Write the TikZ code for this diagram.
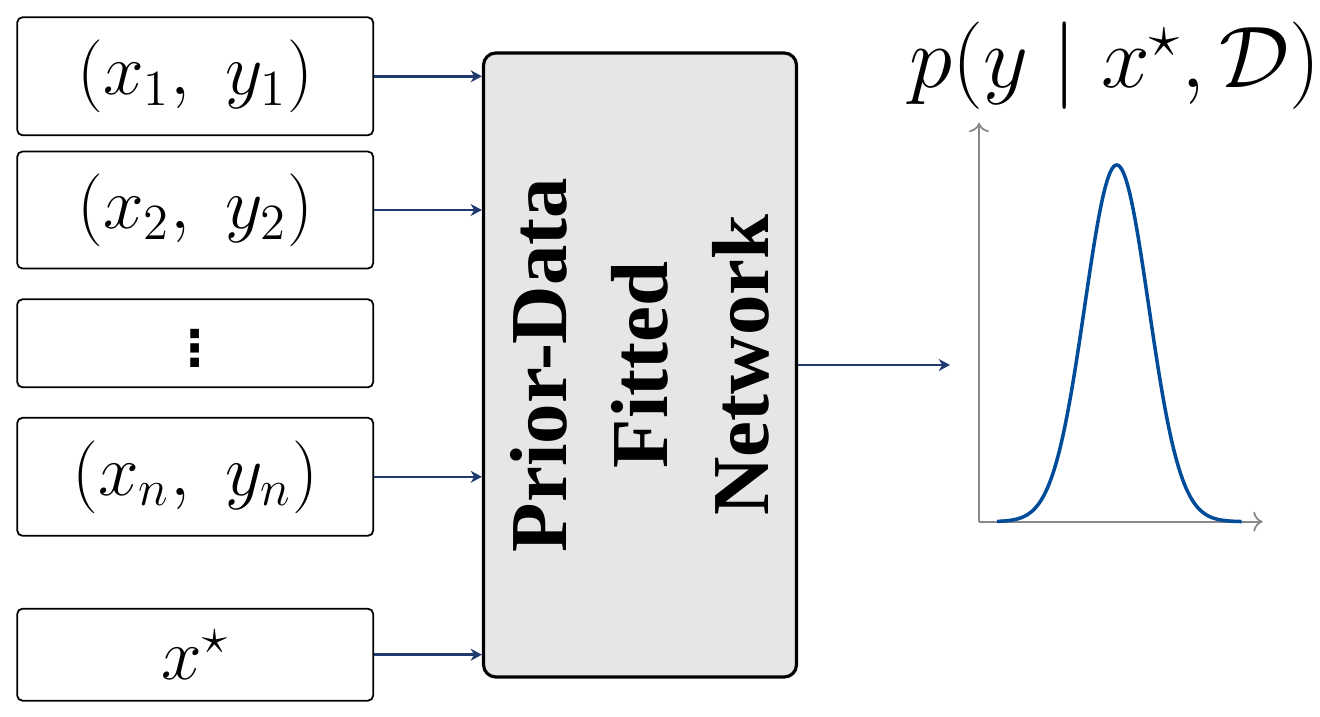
\documentclass[tikz,border=0pt]{standalone}
\usepackage{fontspec}
\usetikzlibrary{arrows.meta,positioning}

\newfontfamily\pfnfont{Liberation Serif}
\newfontfamily\dotsfont{DejaVu Sans}

\definecolor{arrowblue}{RGB}{31,58,110}
\definecolor{curveblue}{RGB}{0,76,153}
\definecolor{axisgray}{RGB}{136,136,136}
\definecolor{pfngray}{RGB}{230,230,230}

\tikzset{
  inbox/.style={draw, line width=0.5pt, rounded corners=1.5pt, minimum width=3.56cm,
    inner sep=0pt, font=\fontsize{22.5}{27}\selectfont},
  pfnbox/.style={draw, line width=0.9pt, fill=pfngray, rounded corners=3.5pt,
    minimum width=3.13cm, minimum height=6.24cm},
  feed/.style={-{Stealth[length=3.2pt,width=3.4pt,inset=1pt]}, line width=0.7pt, draw=arrowblue},
}

\begin{document}
\begin{tikzpicture}[axis/.style={->, draw=axisgray, line width=0.5pt},
    density/.style={draw=curveblue, line width=1pt}]
    \useasboundingbox (0,0) rectangle (13.2,7.16);

    % Входные пары и запрос
    \node[inbox, minimum height=1.18cm] (pair1) at (1.952,6.397) {$(x_1,\ y_1)$};
    \node[inbox, minimum height=1.17cm] (pair2) at (1.952,5.060) {$(x_2,\ y_2)$};
    \node[inbox, minimum height=0.88cm] (gap) at (1.952,3.727) {};
    \node[font=\dotsfont\bfseries\fontsize{14}{16}\selectfont] (gapdots)
      at ([yshift=-0.05cm]gap.center) {⋮};
    \node[inbox, minimum height=1.18cm] (pairn) at (1.952,2.392) {$(x_n,\ y_n)$};
    \node[inbox, minimum height=0.92cm] (query) at (1.952,0.613) {$x^\star$};

    % Сеть
    \node[pfnbox] (pfn) at (6.40,3.51) {};
    \node[rotate=90, align=center, inner sep=0pt,
      font=\pfnfont\bfseries\fontsize{23}{28.7}\selectfont] (pfntext) at (pfn.center)
      {Prior-Data\\Fitted\\Network};

    % Стрелки в сеть
    \foreach \src in {pair1,pair2,pairn,query}
      \draw[feed] (\src.east) -- (\src.east -| pfn.west);

    % Выход: плотность
    \coordinate (distin) at (9.50,3.51);
    \draw[feed] (pfn.east |- distin) -- (distin);

    \coordinate (origin) at (9.79,1.943);
    \coordinate (ytop) at (9.79,5.933);
    \coordinate (xend) at (12.627,1.943);
    \draw[axis] (origin) -- (ytop);
    \draw[axis] (origin) -- (xend);
    \draw[density] plot[domain=9.97:12.417, samples=150, smooth]
      (\x, {1.943+3.567*exp(-((\x-11.167)^2)/(2*0.319^2))});

    \node[anchor=base, inner sep=0pt, font=\fontsize{23}{28}\selectfont] (dist)
      at (11.15,6.28) {$p(y \mid x^\star, \mathcal{D})$};
\end{tikzpicture}
\end{document}
